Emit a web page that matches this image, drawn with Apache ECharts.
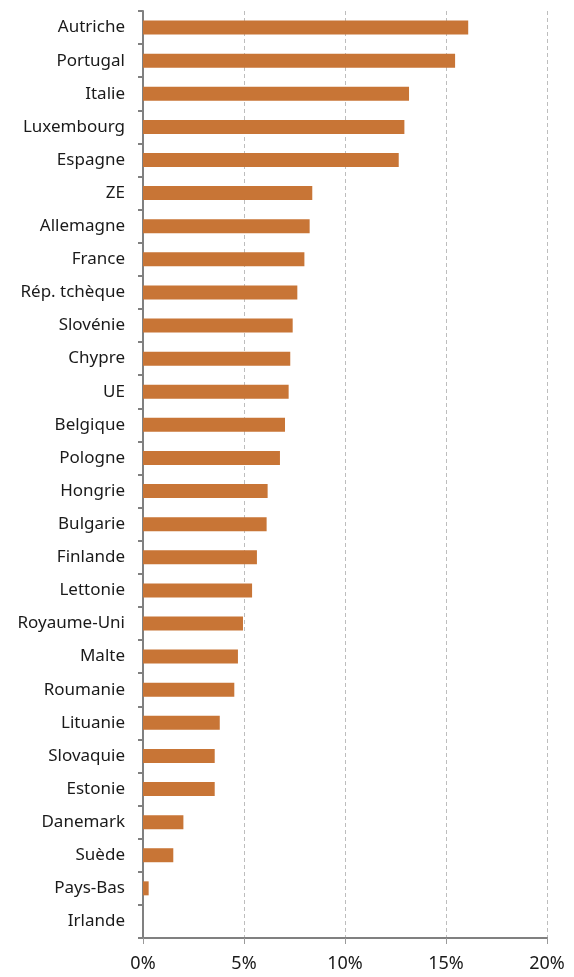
<!DOCTYPE html>
<html>
<head>
<meta charset="utf-8">
<script src="https://cdn.jsdelivr.net/npm/echarts@6/dist/echarts.min.js"></script>
<style>
  html, body { margin: 0; padding: 0; background: #fff; }
  #chart { width: 574px; height: 977px; }
</style>
</head>
<body>
<div id="chart"></div>
<script>
// Countries, top to bottom
const countries = [
  'Autriche', 'Portugal', 'Italie', 'Luxembourg', 'Espagne', 'ZE', 'Allemagne',
  'France', 'Rép. tchèque', 'Slovénie', 'Chypre', 'UE', 'Belgique', 'Pologne',
  'Hongrie', 'Bulgarie', 'Finlande', 'Lettonie', 'Royaume-Uni', 'Malte',
  'Roumanie', 'Lituanie', 'Slovaquie', 'Estonie', 'Danemark', 'Suède',
  'Pays-Bas', 'Irlande'
];

// Share, in percent
const shares = [
  16.1, 15.45, 13.17, 12.94, 12.66, 8.38, 8.25,
  7.99, 7.64, 7.41, 7.29, 7.21, 7.03, 6.78,
  6.17, 6.12, 5.64, 5.40, 4.95, 4.70,
  4.52, 3.80, 3.55, 3.55, 2.0, 1.5,
  0.28, 0
];

// Value axis ticks
const xTicks = [0, 5, 10, 15, 20];

const chart = echarts.init(document.getElementById('chart'), null, { renderer: 'canvas' });

const baseText = { fontFamily: 'Noto Sans', color: '#1a1a1a' };

chart.setOption({
  animation: false,
  grid: { left: 143, right: 27, top: 11, bottom: 39, containLabel: false },
  xAxis: {
    type: 'value',
    min: xTicks[0],
    max: xTicks[xTicks.length - 1],
    interval: xTicks[1] - xTicks[0],
    axisLine: { show: true, lineStyle: { color: '#808080', width: 2 } },
    axisTick: { show: true, length: 6, lineStyle: { color: '#9a9a9a', width: 1 } },
    axisLabel: Object.assign({ margin: 17, fontSize: 18, formatter: v => v + '%' }, baseText),
    splitLine: { show: true, lineStyle: { color: '#bdbdbd', type: [4, 3], width: 1 } }
  },
  yAxis: {
    type: 'category',
    data: countries,
    inverse: true,
    axisLine: { show: true, lineStyle: { color: '#808080', width: 2 } },
    axisTick: { show: true, length: 5, alignWithLabel: false, lineStyle: { color: '#808080', width: 2 } },
    axisLabel: Object.assign({ margin: 18, fontSize: 17 }, baseText),
    splitLine: { show: false }
  },
  series: [{
    type: 'bar',
    data: shares,
    barWidth: 14,
    itemStyle: { color: '#c87536' }
  }]
});
</script>
</body>
</html>
